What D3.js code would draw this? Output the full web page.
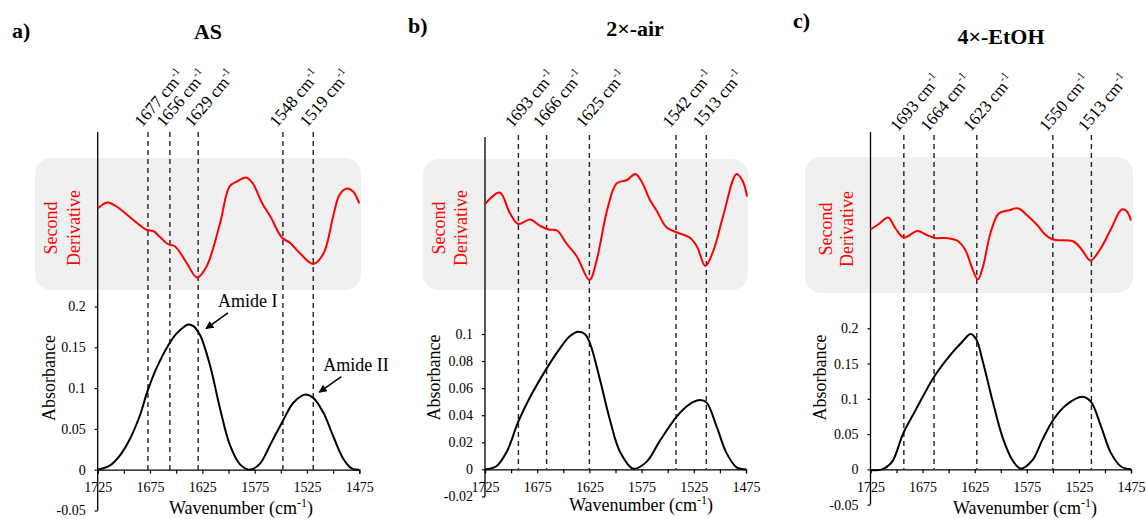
<!DOCTYPE html>
<html>
<head>
<meta charset="UTF-8">
<style>
  body { margin: 0; background: #fff; }
  svg text { font-family: "Liberation Serif", "Times New Roman", serif; }
</style>
</head>
<body>
<div id="chart"></div>
<script src="https://d3js.org/d3.v7.min.js"></script>
<script>

// ---- data ----
// AS
const asAbsWn = [1725, 1713.2, 1703.7, 1694.1, 1684.6, 1678.2, 1668.6, 1657.5, 1649.5, 1638.4, 1633.6, 1627.2, 1617.7, 1608.1, 1598.6, 1589, 1579.5, 1569.9, 1560.3, 1547.6, 1538, 1527, 1519, 1509.4, 1499.9, 1490.3, 1482.3, 1475];
const asAbs   = [0, 0.0053, 0.0176, 0.038, 0.0667, 0.0933, 0.125, 0.1526, 0.167, 0.178, 0.176, 0.165, 0.128, 0.075, 0.030, 0.0065, 0, 0.0074, 0.030, 0.061, 0.082, 0.092, 0.088, 0.070, 0.041, 0.0135, 0.0016, 0];
const asD2Wn  = [1725, 1716, 1707, 1691, 1678, 1672, 1666, 1658, 1651, 1640, 1630, 1621, 1608, 1599, 1592, 1583, 1577, 1568, 1560, 1549, 1541, 1532, 1519, 1509, 1500, 1494, 1487, 1481, 1475];
const asD2    = [0.43, 0.55, 0.47, 0.20, 0.0, -0.02, -0.13, -0.28, -0.33, -0.66, -0.95, -0.73, 0.14, 0.87, 0.97, 1.05, 0.94, 0.54, 0.27, -0.15, -0.26, -0.46, -0.68, -0.46, 0.27, 0.70, 0.83, 0.77, 0.53];
const asPeaks = [1677, 1656, 1629, 1548, 1519];

// 2x-air
const airAbsWn = [1725, 1713.8, 1704.2, 1693.1, 1681.9, 1665.9, 1653.2, 1643.6, 1635.6, 1629.2, 1624.4, 1614.8, 1605.3, 1595.7, 1582.9, 1570.1, 1557.4, 1541.4, 1528.6, 1519.1, 1512.7, 1503.1, 1493.5, 1484, 1475];
const airAbs   = [0, 0.0025, 0.013, 0.0352, 0.0532, 0.0746, 0.0894, 0.0985, 0.1017, 0.0999, 0.0931, 0.066, 0.0365, 0.013, 0.0005, 0.0057, 0.0212, 0.039, 0.0483, 0.0512, 0.0493, 0.0315, 0.0118, 0.0015, 0];
const airD2Wn  = [1725, 1711, 1701, 1693, 1682, 1672, 1664, 1656, 1647, 1637, 1625, 1618, 1608, 1599, 1589, 1581, 1575, 1567, 1561, 1551, 1541, 1529, 1522, 1514, 1506, 1497, 1484, 1478, 1474];
const airD2    = [0.52, 0.75, 0.33, 0.12, 0.21, 0.08, 0.01, -0.01, -0.27, -0.53, -1.0, -0.6, 0.4, 0.93, 1.0, 1.12, 0.97, 0.6, 0.4, 0.05, -0.05, -0.15, -0.33, -0.72, -0.4, 0.27, 1.12, 0.97, 0.67];
const airPeaks = [1693, 1666, 1625, 1542, 1513];

// 4x-EtOH
const etAbsWn = [1725, 1713.8, 1704.2, 1693.9, 1681.7, 1664.1, 1649.7, 1636.9, 1628.8, 1623.4, 1617.6, 1608, 1598.4, 1588.8, 1580.8, 1569.6, 1560, 1549.7, 1537.5, 1521.5, 1513.5, 1503.8, 1494.2, 1484.6, 1475];
const etAbs   = [-0.001, 0, 0.0109, 0.050, 0.084, 0.131, 0.160, 0.181, 0.192, 0.184, 0.155, 0.098, 0.046, 0.013, 0.001, 0.013, 0.042, 0.070, 0.091, 0.103, 0.096, 0.061, 0.023, 0.004, 0];
const etD2Wn  = [1725, 1717, 1708, 1701, 1693, 1680, 1671, 1663, 1652, 1642, 1634, 1628, 1622, 1617, 1610, 1602, 1593, 1583, 1575, 1565, 1557, 1550, 1530, 1522, 1514, 1505, 1494, 1484, 1479, 1475];
const etD2    = [0.01, 0.12, 0.25, 0.03, -0.15, -0.02, -0.1, -0.16, -0.16, -0.21, -0.4, -0.73, -0.99, -0.73, -0.07, 0.33, 0.39, 0.43, 0.3, 0.1, -0.1, -0.19, -0.23, -0.4, -0.61, -0.4, 0.03, 0.41, 0.37, 0.19];
const etPeaks = [1693, 1664, 1623, 1550, 1513];

const wnTicks = d3.range(1725, 1474, -25);
const absTicks05 = [-0.05, 0, 0.05, 0.1, 0.15, 0.2];
const absTicks02 = [-0.02, 0, 0.02, 0.04, 0.06, 0.08, 0.1];

// annotations on panel a: [label, wavenumber, absorbance at arrow tip]
const amideNotes = [["Amide I", 1621.5, 0.173], ["Amide II", 1513.2, 0.095]];

const width = 1146, height = 519;
const svg = d3.select("#chart").append("svg")
    .attr("width", width).attr("height", height);

svg.append("defs").append("marker")
    .attr("id", "arrow")
    .attr("viewBox", "0 0 10 10")
    .attr("refX", 9).attr("refY", 5)
    .attr("markerWidth", 9).attr("markerHeight", 8)
    .attr("markerUnits", "userSpaceOnUse")
    .attr("orient", "auto")
  .append("path")
    .attr("d", "M0,0 L10,5 L0,10 z")
    .attr("fill", "black");

const panels = [
  { letter: "a)", letterX: 12, letterY: 38, title: "AS", titleX: 208, titleY: 39,
    xr: [97.7, 359.3], yd: [-0.05, 0.2], yr: [510.5, 306.5], yTicks: absTicks05,
    axisTop: 132, dashTop: 132, labelY: 128, box: [35, 158, 326, 132],
    secX: [57, 80], secY: 228, absX: 55, absY: 378, waveX: 241, waveY: 514,
    absWn: asAbsWn, abs: asAbs, d2Wn: asD2Wn, d2: asD2, peaks: asPeaks, notes: amideNotes },
  { letter: "b)", letterX: 408, letterY: 33, title: "2×-air", titleX: 635, titleY: 36,
    xr: [485, 746], yd: [-0.02, 0.1], yr: [496.4, 334], yTicks: absTicks02,
    axisTop: 137, dashTop: 135, labelY: 128.5, box: [422.7, 159, 325.3, 131],
    secX: [445, 467], secY: 228, absX: 440, absY: 377.5, waveX: 641, waveY: 511,
    absWn: airAbsWn, abs: airAbs, d2Wn: airD2Wn, d2: airD2, peaks: airPeaks, notes: [] },
  { letter: "c)", letterX: 793, letterY: 28, title: "4×-EtOH", titleX: 1001, titleY: 44,
    xr: [870.5, 1131], yd: [-0.05, 0.2], yr: [504.6, 328.3], yTicks: absTicks05,
    axisTop: 132, dashTop: 135, labelY: 132.5, box: [805, 157, 328, 136],
    secX: [832, 853], secY: 229, absX: 826, absY: 377.5, waveX: 1025, waveY: 514,
    absWn: etAbsWn, abs: etAbs, d2Wn: etD2Wn, d2: etD2, peaks: etPeaks, notes: [] }
];

const fmt = d => String(+d.toFixed(3));

panels.forEach(p => {
  const g = svg.append("g");
  const x = d3.scaleLinear().domain([1725, 1475]).range(p.xr);
  const y = d3.scaleLinear().domain(p.yd).range(p.yr);
  const yd2 = d3.scaleLinear().domain([-1, 1]).range([280, 180]);

  // panel letter and title
  g.append("text").attr("x", p.letterX).attr("y", p.letterY)
    .attr("font-size", 22).attr("font-weight", "bold").text(p.letter);
  g.append("text").attr("x", p.titleX).attr("y", p.titleY)
    .attr("text-anchor", "middle").attr("font-size", 22).attr("font-weight", "bold").text(p.title);

  // grey band behind second derivative
  g.append("rect")
    .attr("x", p.box[0]).attr("y", p.box[1])
    .attr("width", p.box[2]).attr("height", p.box[3])
    .attr("rx", 16).attr("fill", "#f0f0f0");

  // second derivative label
  ["Second", "Derivative"].forEach((t, i) => {
    g.append("text")
      .attr("transform", `translate(${p.secX[i]},${p.secY}) rotate(-90)`)
      .attr("text-anchor", "middle").attr("font-size", 18)
      .attr("fill", "#ff0000").text(t);
  });

  // dashed peak lines
  g.selectAll(".peak").data(p.peaks).enter().append("line")
    .attr("x1", d => x(d)).attr("x2", d => x(d))
    .attr("y1", p.dashTop).attr("y2", y(0))
    .attr("stroke", "#222").attr("stroke-width", 1.4)
    .attr("stroke-dasharray", "5,4");

  // rotated peak labels
  const lab = g.selectAll(".plab").data(p.peaks).enter().append("text")
    .attr("transform", d => `translate(${x(d) - 6},${p.labelY}) rotate(-50)`)
    .attr("font-size", 17);
  lab.append("tspan").text(d => d + " cm");
  lab.append("tspan").attr("font-size", 11).attr("dy", -7).text("-1");

  // x axis
  const xAxis = g.append("g")
    .attr("transform", `translate(0,${y(0)})`)
    .call(d3.axisBottom(x).tickValues(wnTicks).tickSize(4).tickPadding(8.5)
      .tickFormat(d => (1725 - d) % 50 === 0 ? d : ""));
  xAxis.select(".domain").attr("stroke", "black").attr("stroke-width", 1.3);
  xAxis.selectAll(".tick line").attr("stroke", "black").attr("stroke-width", 1.2);
  xAxis.selectAll("text").attr("font-size", 14).attr("fill", "black")
    .attr("font-family", "Liberation Serif, Times New Roman, serif");

  // y axis
  const yAxis = g.append("g")
    .attr("transform", `translate(${p.xr[0]},0)`)
    .call(d3.axisLeft(y).tickValues(p.yTicks).tickSize(3).tickPadding(9).tickFormat(fmt));
  yAxis.select(".domain").remove();
  yAxis.selectAll(".tick line").attr("stroke", "black").attr("stroke-width", 1.2);
  yAxis.selectAll("text").attr("font-size", 14).attr("fill", "black")
    .attr("font-family", "Liberation Serif, Times New Roman, serif");
  g.append("line")
    .attr("x1", p.xr[0]).attr("x2", p.xr[0])
    .attr("y1", p.axisTop).attr("y2", y(p.yd[0]))
    .attr("stroke", "black").attr("stroke-width", 1.3);

  // curves
  const absLine = d3.line().x((d, i) => x(p.absWn[i])).y(d => y(d)).curve(d3.curveCatmullRom.alpha(0.5));
  g.append("path").datum(p.abs).attr("d", absLine)
    .attr("fill", "none").attr("stroke", "black").attr("stroke-width", 2);

  const d2Line = d3.line().x((d, i) => x(p.d2Wn[i])).y(d => yd2(d)).curve(d3.curveCatmullRom.alpha(0.5));
  g.append("path").datum(p.d2).attr("d", d2Line)
    .attr("fill", "none").attr("stroke", "#ff0000").attr("stroke-width", 2);

  // axis titles
  g.append("text")
    .attr("transform", `translate(${p.absX},${p.absY}) rotate(-90)`)
    .attr("text-anchor", "middle").attr("font-size", 18).text("Absorbance");
  const wl = g.append("text").attr("x", p.waveX).attr("y", p.waveY)
    .attr("text-anchor", "middle").attr("font-size", 18);
  wl.append("tspan").text("Wavenumber (cm");
  wl.append("tspan").attr("font-size", 12).attr("dy", -7).text("-1");
  wl.append("tspan").attr("dy", 7).text(")");

  // amide annotations
  p.notes.forEach(n => {
    const tx = x(n[1]), ty = y(n[2]);
    g.append("line")
      .attr("x1", tx + 22).attr("y1", ty - 15.6)
      .attr("x2", tx).attr("y2", ty)
      .attr("stroke", "black").attr("stroke-width", 1.5)
      .attr("marker-end", "url(#arrow)");
    g.append("text").attr("x", tx + (n[0] === "Amide I" ? 12 : 4)).attr("y", ty - 21.6)
      .attr("font-size", 18).text(n[0]);
  });
});
</script>
</body>
</html>
